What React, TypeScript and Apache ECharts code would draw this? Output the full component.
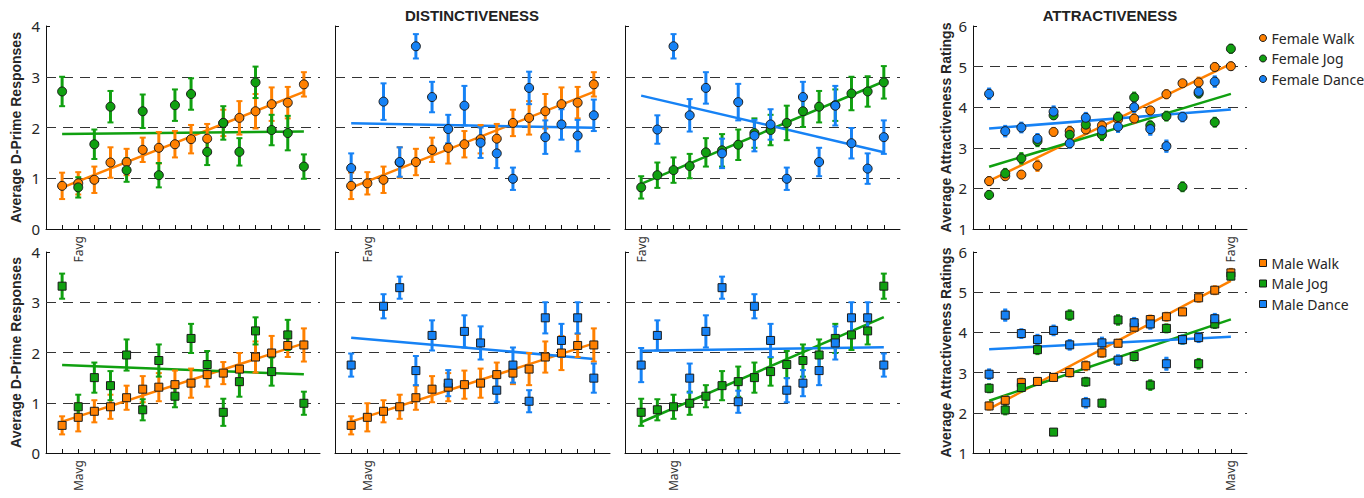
import React, { useEffect, useRef } from 'react';
import * as echarts from 'echarts';

const ORANGE = '#FF8000';
const GREEN = '#10A010';
const BLUE = '#1682F5';

const positions = [1, 2, 3, 4, 5, 6, 7, 8, 9, 10, 11, 12, 13, 14, 15, 16];
const dprimeTicks = [1, 2, 3];
const attractTicks = [2, 3, 4, 5];

// ---- Top row: female, D-prime ----
const fWalkDp = [0.85, 0.90, 0.97, 1.31, 1.32, 1.56, 1.60, 1.67, 1.77, 1.78, 2.09, 2.19, 2.32, 2.46, 2.49, 2.85];
const fWalkDpErr = [0.26, 0.22, 0.26, 0.30, 0.26, 0.24, 0.31, 0.26, 0.28, 0.29, 0.26, 0.33, 0.34, 0.33, 0.31, 0.24];
const fJogDpByWalk = [2.71, 0.82, 1.67, 2.41, 1.16, 2.32, 1.06, 2.44, 2.66, 1.52, 2.09, 1.52, 2.89, 1.95, 1.89, 1.23];
const fJogDpByWalkErr = [0.29, 0.20, 0.29, 0.31, 0.23, 0.33, 0.24, 0.31, 0.31, 0.26, 0.33, 0.27, 0.31, 0.30, 0.34, 0.24];
const fDanceDpByWalk = [1.20, null, 2.51, 1.32, 3.60, 2.60, 1.97, 2.43, 1.70, 1.49, 0.99, 2.78, 1.81, 2.06, 1.84, 2.24];
const fDanceDpByWalkErr = [0.29, null, 0.36, 0.29, 0.24, 0.30, 0.28, 0.39, 0.30, 0.29, 0.22, 0.32, 0.33, 0.30, 0.31, 0.31];
const fJogDpSorted = [0.82, 1.06, 1.16, 1.24, 1.51, 1.55, 1.66, 1.89, 1.95, 2.09, 2.32, 2.41, 2.44, 2.67, 2.71, 2.89];
const fJogDpSortedErr = [0.22, 0.25, 0.25, 0.24, 0.28, 0.32, 0.30, 0.29, 0.30, 0.34, 0.31, 0.31, 0.31, 0.33, 0.30, 0.32];
const fDanceDpByJog = [null, 1.96, 3.60, 2.24, 2.78, 1.49, 2.50, 1.84, 2.06, 0.99, 2.60, 1.32, 2.43, 1.69, 1.19, 1.81];
const fDanceDpByJogErr = [null, 0.28, 0.24, 0.32, 0.31, 0.29, 0.36, 0.31, 0.30, 0.22, 0.30, 0.28, 0.39, 0.30, 0.30, 0.33];

// ---- Bottom row: male, D-prime ----
const mWalkDp = [0.55, 0.71, 0.83, 0.92, 1.10, 1.27, 1.31, 1.36, 1.39, 1.56, 1.59, 1.67, 1.91, 1.99, 2.14, 2.15];
const mWalkDpErr = [0.18, 0.28, 0.22, 0.24, 0.24, 0.26, 0.28, 0.28, 0.29, 0.24, 0.22, 0.32, 0.31, 0.34, 0.23, 0.33];
const mJogDpByWalk = [3.32, 0.92, 1.50, 1.34, 1.95, 0.86, 1.84, 1.13, 2.28, 1.76, 0.81, 1.42, 2.43, 1.62, 2.35, 0.99];
const mJogDpByWalkErr = [0.25, 0.24, 0.30, 0.29, 0.31, 0.21, 0.32, 0.22, 0.29, 0.27, 0.27, 0.30, 0.27, 0.28, 0.30, 0.23];
const mDanceDpByWalk = [1.75, null, 2.92, 3.29, 1.64, 2.34, 1.39, 2.42, 2.19, 1.25, 1.75, 1.03, 2.69, 2.24, 2.69, 1.49];
const mDanceDpByWalkErr = [0.23, null, 0.24, 0.22, 0.29, 0.30, 0.26, 0.32, 0.33, 0.24, 0.35, 0.22, 0.31, 0.33, 0.31, 0.29];
const mJogDpSorted = [0.81, 0.86, 0.92, 0.99, 1.13, 1.34, 1.42, 1.50, 1.62, 1.76, 1.84, 1.95, 2.28, 2.35, 2.43, 3.32];
const mJogDpSortedErr = [0.27, 0.21, 0.24, 0.23, 0.22, 0.29, 0.30, 0.30, 0.28, 0.27, 0.32, 0.31, 0.29, 0.30, 0.27, 0.25];
const mDanceDpByJog = [1.75, 2.34, null, 1.49, 2.42, 3.29, 1.02, 2.92, 2.24, 1.25, 1.39, 1.64, 2.19, 2.69, 2.69, 1.75];
const mDanceDpByJogErr = [0.34, 0.30, null, 0.29, 0.32, 0.22, 0.22, 0.24, 0.33, 0.24, 0.26, 0.29, 0.33, 0.31, 0.31, 0.23];

// ---- Attractiveness ----
const fWalkAt = [2.18, 2.30, 2.34, 2.56, 3.39, 3.41, 3.45, 3.55, 3.70, 3.72, 3.92, 4.32, 4.59, 4.61, 4.99, 5.01];
const fWalkAtErr = [0.10, 0.08, 0.09, 0.13, 0.10, 0.11, 0.10, 0.09, 0.10, 0.11, 0.09, 0.10, 0.08, 0.12, 0.10, 0.09];
const fJogAt = [1.84, 2.37, 2.74, 3.16, 3.80, 3.32, 3.57, 3.32, 3.76, 4.24, 3.55, 3.78, 2.04, 4.34, 3.63, 5.44];
const fJogAtErr = [0.09, 0.11, 0.13, 0.12, 0.09, 0.10, 0.10, 0.13, 0.11, 0.12, 0.10, 0.11, 0.11, 0.10, 0.11, 0.10];
const fDanceAt = [4.33, 3.41, 3.50, 3.22, 3.89, 3.11, 3.74, 3.43, 3.52, 4.00, 3.46, 3.04, 3.76, 4.38, 4.63, null];
const fDanceAtErr = [0.13, 0.13, 0.12, 0.12, 0.13, 0.11, 0.12, 0.12, 0.13, 0.12, 0.14, 0.14, 0.11, 0.12, 0.13, null];

const mWalkAt = [2.17, 2.31, 2.75, 2.78, 2.88, 3.00, 3.17, 3.49, 3.73, 4.13, 4.32, 4.39, 4.51, 4.86, 5.05, 5.48];
const mWalkAtErr = [0.09, 0.10, 0.10, 0.09, 0.09, 0.10, 0.11, 0.10, 0.09, 0.10, 0.10, 0.10, 0.08, 0.10, 0.10, 0.10];
const mJogAt = [2.61, 2.07, 2.63, 3.57, 1.52, 4.43, 2.77, 2.24, 4.31, 3.40, 2.69, 4.10, 3.82, 3.22, 4.21, 5.40];
const mJogAtErr = [0.10, 0.11, 0.10, 0.11, 0.07, 0.12, 0.10, 0.09, 0.12, 0.10, 0.12, 0.10, 0.10, 0.12, 0.10, 0.08];
const mDanceAt = [2.96, 4.43, 3.97, 3.82, 4.05, 3.69, 2.25, 3.74, 3.31, 4.24, 4.21, 3.22, 3.82, 3.87, 4.34, null];
const mDanceAtErr = [0.12, 0.14, 0.11, 0.12, 0.12, 0.12, 0.12, 0.13, 0.12, 0.12, 0.12, 0.15, 0.10, 0.11, 0.12, null];

const DPRIME_NAME = 'Average D-Prime Responses';
const ATTRACT_NAME = 'Average Attractiveness Ratings';
const femaleLegend = ['Female Walk', 'Female Jog', 'Female Dance'];
const maleLegend = ['Male Walk', 'Male Jog', 'Male Dance'];

type Group = { name: string; color: string; v: (number | null)[]; e: (number | null)[] };
type Panel = {
  rect: [number, number, number, number];
  yRange: [number, number];
  grids: number[];
  showYLabels: boolean;
  yName: string;
  xLabel: string;
  xLabelAt: number;
  symbol: string;
  attract: boolean;
  groups: Group[];
};

const TOP = 26, TOP_H = 203, BOT = 252, BOT_H = 201;
const COLS = [[46, 274], [335, 275], [625, 275], [973, 274]];

const panels: Panel[] = [
  { rect: [COLS[0][0], TOP, COLS[0][1], TOP_H], yRange: [0, 4], grids: dprimeTicks, showYLabels: true, yName: DPRIME_NAME, xLabel: 'Favg', xLabelAt: 2, symbol: 'circle', attract: false,
    groups: [{ name: 'Female Walk', color: ORANGE, v: fWalkDp, e: fWalkDpErr }, { name: 'Female Jog', color: GREEN, v: fJogDpByWalk, e: fJogDpByWalkErr }] },
  { rect: [COLS[1][0], TOP, COLS[1][1], TOP_H], yRange: [0, 4], grids: dprimeTicks, showYLabels: false, yName: '', xLabel: 'Favg', xLabelAt: 2, symbol: 'circle', attract: false,
    groups: [{ name: 'Female Walk', color: ORANGE, v: fWalkDp, e: fWalkDpErr }, { name: 'Female Dance', color: BLUE, v: fDanceDpByWalk, e: fDanceDpByWalkErr }] },
  { rect: [COLS[2][0], TOP, COLS[2][1], TOP_H], yRange: [0, 4], grids: dprimeTicks, showYLabels: false, yName: '', xLabel: 'Favg', xLabelAt: 1, symbol: 'circle', attract: false,
    groups: [{ name: 'Female Jog', color: GREEN, v: fJogDpSorted, e: fJogDpSortedErr }, { name: 'Female Dance', color: BLUE, v: fDanceDpByJog, e: fDanceDpByJogErr }] },
  { rect: [COLS[3][0], TOP, COLS[3][1], TOP_H], yRange: [1, 6], grids: attractTicks, showYLabels: true, yName: ATTRACT_NAME, xLabel: 'Favg', xLabelAt: 16, symbol: 'circle', attract: true,
    groups: [{ name: 'Female Walk', color: ORANGE, v: fWalkAt, e: fWalkAtErr }, { name: 'Female Jog', color: GREEN, v: fJogAt, e: fJogAtErr }, { name: 'Female Dance', color: BLUE, v: fDanceAt, e: fDanceAtErr }] },
  { rect: [COLS[0][0], BOT, COLS[0][1], BOT_H], yRange: [0, 4], grids: dprimeTicks, showYLabels: true, yName: DPRIME_NAME, xLabel: 'Mavg', xLabelAt: 2, symbol: 'rect', attract: false,
    groups: [{ name: 'Male Walk', color: ORANGE, v: mWalkDp, e: mWalkDpErr }, { name: 'Male Jog', color: GREEN, v: mJogDpByWalk, e: mJogDpByWalkErr }] },
  { rect: [COLS[1][0], BOT, COLS[1][1], BOT_H], yRange: [0, 4], grids: dprimeTicks, showYLabels: false, yName: '', xLabel: 'Mavg', xLabelAt: 2, symbol: 'rect', attract: false,
    groups: [{ name: 'Male Walk', color: ORANGE, v: mWalkDp, e: mWalkDpErr }, { name: 'Male Dance', color: BLUE, v: mDanceDpByWalk, e: mDanceDpByWalkErr }] },
  { rect: [COLS[2][0], BOT, COLS[2][1], BOT_H], yRange: [0, 4], grids: dprimeTicks, showYLabels: false, yName: '', xLabel: 'Mavg', xLabelAt: 3, symbol: 'rect', attract: false,
    groups: [{ name: 'Male Jog', color: GREEN, v: mJogDpSorted, e: mJogDpSortedErr }, { name: 'Male Dance', color: BLUE, v: mDanceDpByJog, e: mDanceDpByJogErr }] },
  { rect: [COLS[3][0], BOT, COLS[3][1], BOT_H], yRange: [1, 6], grids: attractTicks, showYLabels: true, yName: ATTRACT_NAME, xLabel: 'Mavg', xLabelAt: 16, symbol: 'rect', attract: true,
    groups: [{ name: 'Male Walk', color: ORANGE, v: mWalkAt, e: mWalkAtErr }, { name: 'Male Jog', color: GREEN, v: mJogAt, e: mJogAtErr }, { name: 'Male Dance', color: BLUE, v: mDanceAt, e: mDanceAtErr }] },
];

function linFit(v: (number | null)[]) {
  const pts = positions.map((x, i) => [x, v[i]]).filter((p) => p[1] != null) as number[][];
  const n = pts.length;
  const mx = pts.reduce((s, p) => s + p[0], 0) / n;
  const my = pts.reduce((s, p) => s + p[1], 0) / n;
  let sxy = 0, sxx = 0;
  pts.forEach((p) => { sxy += (p[0] - mx) * (p[1] - my); sxx += (p[0] - mx) ** 2; });
  const b = sxy / sxx;
  const a = my - b * mx;
  const x0 = positions[0], x1 = positions[positions.length - 1];
  return [[x0, a + b * x0], [x1, a + b * x1]];
}

const TICK_FONT = '"Noto Sans", sans-serif';
const BOLD_FONT = '"Liberation Sans", Arial, sans-serif';

function buildOption() {
  const grid: any[] = [];
  const xAxis: any[] = [];
  const yAxis: any[] = [];
  const series: any[] = [];

  panels.forEach((p, pi) => {
    grid.push({ left: p.rect[0], top: p.rect[1], width: p.rect[2], height: p.rect[3], containLabel: false });
    xAxis.push({
      gridIndex: pi, type: 'value', min: 0, max: 17, interval: 1,
      axisLine: { show: true, onZero: false, lineStyle: { color: '#111', width: 1 } },
      axisTick: { show: true, inside: true, length: 4, customValues: positions, lineStyle: { color: '#111' } },
      axisLabel: {
        show: true, customValues: [p.xLabelAt], rotate: 90, margin: 7,
        formatter: (val: number) => (val === p.xLabelAt ? p.xLabel : ''),
        fontSize: 12, color: '#333', fontFamily: TICK_FONT,
      },
      splitLine: { show: false },
    });
    yAxis.push({
      gridIndex: pi, type: 'value', min: p.yRange[0], max: p.yRange[1], interval: 1,
      axisLine: { show: true, lineStyle: { color: '#111', width: 1 } },
      axisTick: { show: true, inside: true, length: 4, lineStyle: { color: '#111' } },
      axisLabel: { show: p.showYLabels, fontSize: 15, color: '#262626', margin: 6, fontFamily: TICK_FONT },
      splitLine: { show: false },
      name: p.yName, nameLocation: 'middle', nameGap: p.attract ? 20 : 23,
      nameTextStyle: { fontSize: 14, fontWeight: 'bold', color: '#262626', fontFamily: BOLD_FONT },
    });

    const capW = p.attract ? 4 : 6;
    const barW = p.attract ? 4 : 3;
    const symSize = p.symbol === 'circle' ? 9 : 8;

    p.groups.forEach((g, gi) => {
      series.push({
        type: 'line', name: g.name + ' fit', xAxisIndex: pi, yAxisIndex: pi, z: 2, silent: true,
        showSymbol: false, symbol: 'none', data: linFit(g.v),
        lineStyle: { color: g.color, width: 2.5 },
        markLine: gi === 0 ? {
          silent: true, symbol: ['none', 'none'], label: { show: false },
          lineStyle: { type: [10, 7], color: '#333', width: 1.1 },
          data: p.grids.map((t) => ({ yAxis: t })),
          z: 1,
        } : undefined,
      });
    });
    p.groups.forEach((g) => {
      const errData = positions
        .map((x, i) => (g.v[i] == null ? null : [x, g.v[i], g.e[i]]))
        .filter((d) => d != null);
      series.push({
        type: 'custom', name: g.name + ' err', xAxisIndex: pi, yAxisIndex: pi, z: 3, silent: true,
        data: errData,
        renderItem: (params: any, api: any) => {
          const x = api.value(0), y = api.value(1), e = api.value(2);
          const t = api.coord([x, y + e]);
          const b = api.coord([x, y - e]);
          const h = capW / 2;
          return {
            type: 'group', children: [
              { type: 'line', shape: { x1: t[0], y1: t[1], x2: b[0], y2: b[1] }, style: { stroke: g.color, lineWidth: barW } },
              { type: 'line', shape: { x1: t[0] - h, y1: t[1], x2: t[0] + h, y2: t[1] }, style: { stroke: g.color, lineWidth: 2 } },
              { type: 'line', shape: { x1: b[0] - h, y1: b[1], x2: b[0] + h, y2: b[1] }, style: { stroke: g.color, lineWidth: 2 } },
            ],
          };
        },
      });
    });
    p.groups.forEach((g) => {
      series.push({
        type: 'scatter', name: g.name, xAxisIndex: pi, yAxisIndex: pi, z: 4,
        symbol: p.symbol, symbolSize: symSize,
        itemStyle: { color: g.color, borderColor: '#1a1a1a', borderWidth: 1, opacity: 1 },
        data: positions.map((x, i) => (g.v[i] == null ? null : [x, g.v[i]])).filter((d) => d != null),
      });
    });
  });

  const legendBase = {
    orient: 'vertical', left: 1254, itemWidth: 7, itemHeight: 7, itemGap: 6.5,
    selectedMode: false,
    itemStyle: { borderColor: '#1a1a1a', borderWidth: 1 },
    textStyle: { fontSize: 14, color: '#262626', fontFamily: TICK_FONT, lineHeight: 14 },
  };

  return {
    animation: false,
    backgroundColor: '#ffffff',
    grid, xAxis, yAxis, series,
    legend: [
      { ...legendBase, top: 26, data: femaleLegend.map((n) => ({ name: n, icon: 'circle' })) },
      { ...legendBase, top: 251, data: maleLegend.map((n) => ({ name: n, icon: 'rect' })) },
    ],
    graphic: [
      { type: 'text', x: 472, y: 15, style: { text: 'DISTINCTIVENESS', font: `bold 15px ${BOLD_FONT}`, fill: '#222', textAlign: 'center', textVerticalAlign: 'middle' } },
      { type: 'text', x: 1110, y: 15, style: { text: 'ATTRACTIVENESS', font: `bold 15px ${BOLD_FONT}`, fill: '#222', textAlign: 'center', textVerticalAlign: 'middle' } },
    ],
  };
}

export default function App() {
  const ref = useRef<HTMLDivElement>(null);
  useEffect(() => {
    if (!ref.current) return;
    const chart = echarts.init(ref.current, null, { renderer: 'svg' });
    chart.setOption(buildOption() as any);
    return () => chart.dispose();
  }, []);
  return (
    <div
      ref={ref}
      style={{ position: 'fixed', left: 0, top: 0, width: 1364, height: 498, background: '#fff' }}
    />
  );
}
